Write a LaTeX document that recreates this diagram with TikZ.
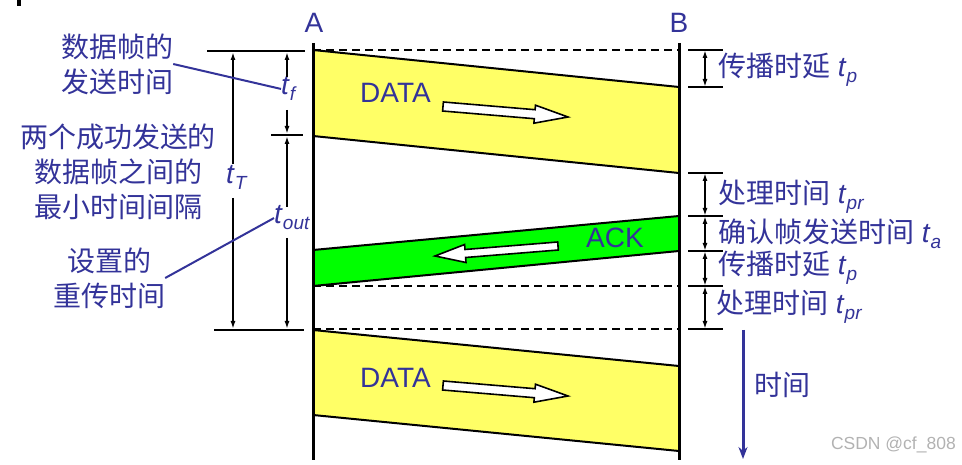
\documentclass[tikz,border=0pt]{standalone}
\usepackage{fontspec}
\setmainfont{Liberation Sans}
\newfontfamily\cjk{Noto Sans CJK SC}
\usetikzlibrary{arrows.meta}
\definecolor{tblue}{RGB}{51,51,153}
\definecolor{dyellow}{RGB}{255,255,102}
\definecolor{agreen}{RGB}{0,255,0}
\newcommand\tsub[1]{\textit{t}\raisebox{-6pt}{\fontsize{19}{19}\selectfont\textit{#1}}}
\begin{document}
\begin{tikzpicture}[x=1pt,y=-1pt,
  lbl/.style={text=tblue,font=\fontsize{28}{34}\selectfont,inner sep=0pt},
  cjklbl/.style={text=tblue,font=\fontsize{28}{35}\selectfont\cjk,inner sep=0pt,align=center},
  axisline/.style={line width=3pt},
  band/.style={draw=black,line width=2pt,line join=round},
  dashline/.style={line width=2pt,dash pattern=on 8pt off 5pt},
  tickline/.style={line width=2pt},
  dim/.style={line width=1.6pt,-{Latex[length=8pt,width=5pt]}},
  ddim/.style={line width=1.6pt,{Latex[length=8pt,width=5pt]}-{Latex[length=8pt,width=5pt]}},
  lead/.style={draw=tblue,line width=2pt},
  hollow/.style={draw=black,fill=white,line width=1.6pt,line join=miter},
]
\useasboundingbox (0,0) rectangle (962,465);
\fill (17,0) rectangle (21,6);

% bands
\path[band,fill=dyellow] (313,50) -- (679,87) -- (679,173) -- (313,136) -- cycle;
\path[band,fill=agreen] (313,250) -- (679,216) -- (679,251) -- (313,286) -- cycle;
\path[band,fill=dyellow] (313,330) -- (679,366) -- (679,451) -- (313,415) -- cycle;

% dashed lines
\coordinate (dA0) at (313,50);  \coordinate (dB0) at (679,50);
\coordinate (dA1) at (313,286); \coordinate (dB1) at (679,286);
\coordinate (dA2) at (313,329); \coordinate (dB2) at (679,329);
\draw[dashline] (dA0) -- (dB0);
\draw[dashline] (dA1) -- (dB1);
\draw[dashline] (dA2) -- (dB2);

% station lines
\node[lbl,anchor=base] (A) at (314,33) {A};
\node[lbl,anchor=base] (B) at (679,33) {B};
\coordinate (Atop) at (313,43); \coordinate (Abot) at (313,460);
\coordinate (Btop) at (679,43); \coordinate (Bbot) at (679,460);
\draw[axisline] (Atop) -- (Abot);
\draw[axisline] (Btop) -- (Bbot);

% hollow arrows
\path[hollow] (443.4,102.0) -- (535.1,109.7) -- (535.5,105.2) -- (568,117) -- (533.9,123.2) -- (534.3,118.7) -- (442.6,111.0) -- cycle;
\path[hollow] (443.4,381.0) -- (535.1,388.7) -- (535.5,384.2) -- (568,396) -- (533.9,402.2) -- (534.3,397.7) -- (442.6,390.0) -- cycle;
\path[hollow] (557.7,242.0) -- (465.0,249.5) -- (464.6,244.5) -- (435,256) -- (466.0,262.5) -- (465.6,257.5) -- (558.3,250.0) -- cycle;

\node[lbl,anchor=base west] (data1) at (360,103) {DATA};
\node[lbl,anchor=base west] (data2) at (360,387) {DATA};
\node[lbl,anchor=base west] (ack) at (586,248) {ACK};

% left dimension lines
\coordinate (L1a) at (207,51); \coordinate (L1b) at (305,51);
\coordinate (L2a) at (271,135); \coordinate (L2b) at (303,135);
\coordinate (L3a) at (214,330); \coordinate (L3b) at (304,330);
\draw[tickline] (L1a) -- (L1b);
\draw[tickline] (L2a) -- (L2b);
\draw[tickline] (L3a) -- (L3b);

\node[lbl,anchor=base west] (tT) at (226,184) {\tsub{T}};
\node[lbl,anchor=base west] (tf) at (281,95) {\tsub{f}};
\node[lbl,anchor=base west] (tout) at (274,224) {\tsub{out}};

\coordinate (tTu0) at (233,164); \coordinate (tTu1) at (233,52);
\coordinate (tTl0) at (233,198); \coordinate (tTl1) at (233,329);
\draw[dim] (tTu0) -- (tTu1);
\draw[dim] (tTl0) -- (tTl1);
\coordinate (tfu0) at (287,77); \coordinate (tfu1) at (287,52);
\coordinate (tfl0) at (287,110); \coordinate (tfl1) at (287,134);
\draw[dim] (tfu0) -- (tfu1);
\draw[dim] (tfl0) -- (tfl1);
\coordinate (tou0) at (287,207); \coordinate (tou1) at (287,136);
\coordinate (tol0) at (287,238); \coordinate (tol1) at (287,329);
\draw[dim] (tou0) -- (tou1);
\draw[dim] (tol0) -- (tol1);

% left texts
\node[cjklbl] (ft) at (117,64) {数据帧的\\发送时间};
\node[cjklbl] (gap) at (118,172) {两个成功发送的\\数据帧之间的\\最小时间间隔};
\node[cjklbl] (rt) at (109,278) {设置的\\重传时间};
\draw[lead] (ft.east) -- (tf.west);
\draw[lead] (rt.east) -- (tout.west);

% right ticks
\foreach \y/\n in {50/r0,87/r1,173/r2,216/r3,251/r4,286/r5,329/r6}{
  \coordinate (\n a) at (688,\y);
  \coordinate (\n b) at (723,\y);
  \coordinate (\n m) at (705,\y);
  \draw[tickline] (\n a) -- (\n b);
}
\draw[ddim] (r0m) -- (r1m);
\draw[ddim] (r2m) -- (r3m);
\draw[ddim] (r3m) -- (r4m);
\draw[ddim] (r4m) -- (r5m);
\draw[ddim] (r5m) -- (r6m);

\node[lbl,anchor=base west] (p1) at (718,77) {{\cjk 传播时延} \tsub{p}};
\node[lbl,anchor=base west] (pr1) at (718,204) {{\cjk 处理时间} \tsub{pr}};
\node[lbl,anchor=base west] (ta) at (718,243) {{\cjk 确认帧发送时间} \tsub{a}};
\node[lbl,anchor=base west] (p2) at (718,275) {{\cjk 传播时延} \tsub{p}};
\node[lbl,anchor=base west] (pr2) at (716,313) {{\cjk 处理时间} \tsub{pr}};

% time axis
\coordinate (T0) at (743,330); \coordinate (T1) at (743,459);
\draw[draw=tblue,line width=3pt,-{Stealth[length=12pt,width=9pt]}] (T0) -- (T1);
\node[cjklbl,anchor=west] (time) at (754,385) {时间};

\node[text=black!30,font=\fontsize{17.5}{17.5}\selectfont,anchor=base east,inner sep=0pt] (wm) at (956,449) {CSDN @cf\_808};
\end{tikzpicture}
\end{document}
